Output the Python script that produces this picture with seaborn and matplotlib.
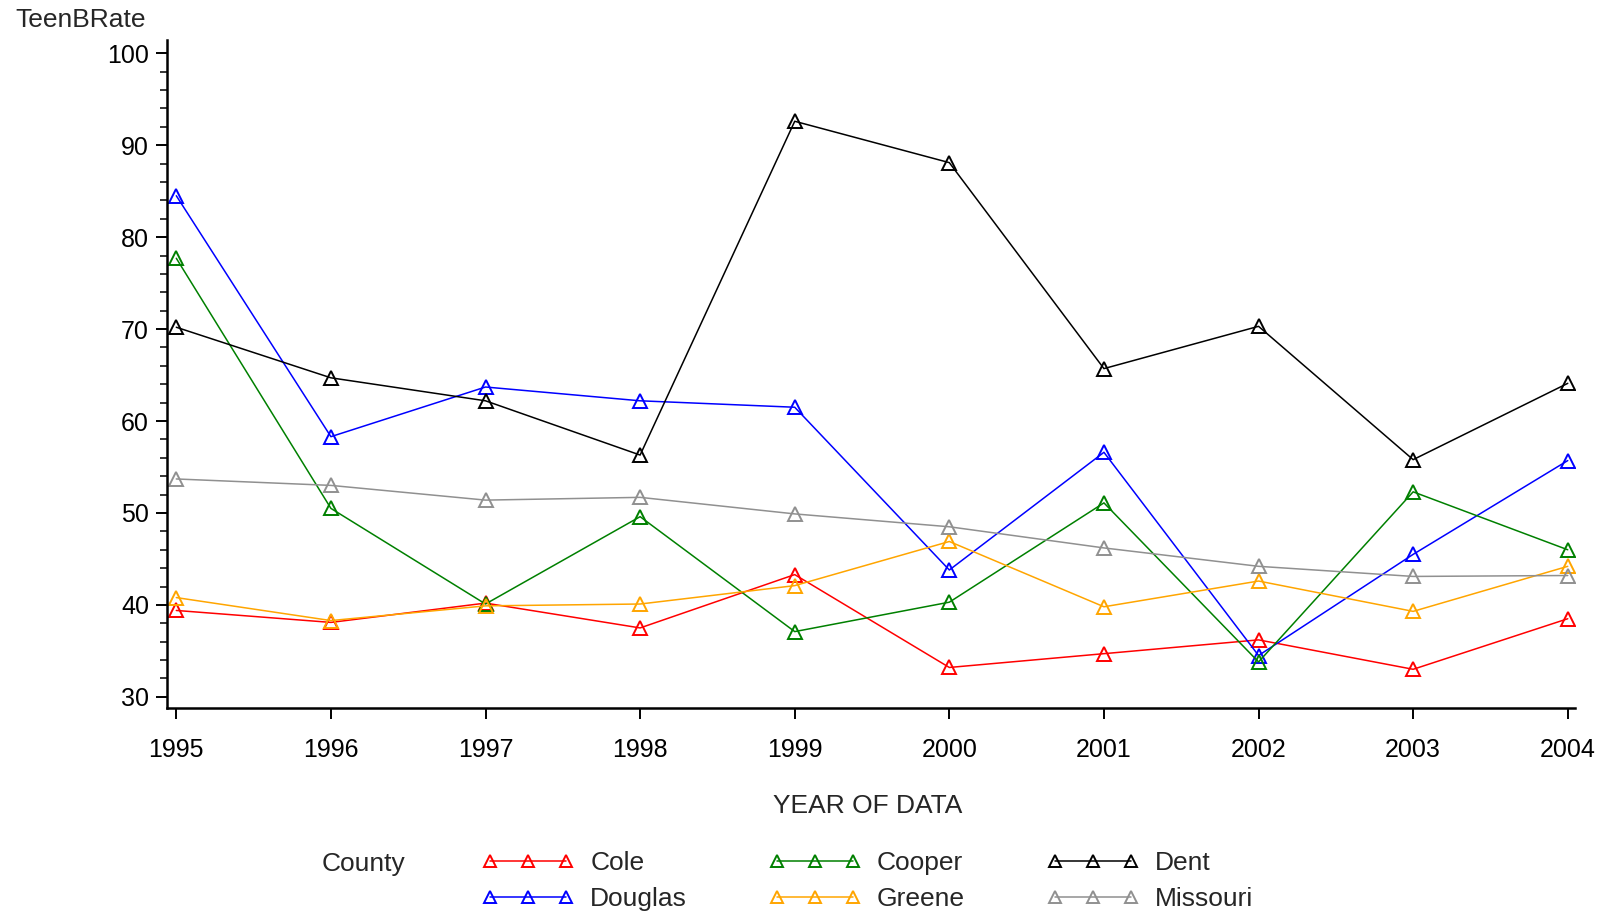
import matplotlib
matplotlib.use("Agg")
import matplotlib.pyplot as plt
import seaborn as sns
import pandas as pd
from matplotlib.ticker import MultipleLocator

years = [1995, 1996, 1997, 1998, 1999, 2000, 2001, 2002, 2003, 2004]
cole = [39.4, 38.1, 40.2, 37.5, 43.3, 33.2, 34.7, 36.2, 33.0, 38.5]
douglas = [84.5, 58.3, 63.7, 62.2, 61.5, 43.8, 56.6, 34.5, 45.5, 55.7]
cooper = [77.7, 50.5, 40.1, 49.6, 37.1, 40.3, 51.1, 33.8, 52.3, 46.0]
greene = [40.8, 38.3, 39.9, 40.1, 42.1, 46.9, 39.8, 42.6, 39.3, 44.2]
dent = [70.2, 64.7, 62.2, 56.3, 92.6, 88.1, 65.7, 70.3, 55.8, 64.1]
missouri = [53.7, 53.0, 51.4, 51.7, 49.9, 48.5, 46.2, 44.2, 43.1, 43.2]

counties = ["Cole", "Douglas", "Cooper", "Greene", "Dent", "Missouri"]
series = [cole, douglas, cooper, greene, dent, missouri]
colors = ["#ff0000", "#0000ff", "#008000", "#ffa500", "#000000", "#909090"]

rows = []
for name, vals in zip(counties, series):
    for y, v in zip(years, vals):
        rows.append({"County": name, "Year": y, "TeenBRate": v})
df = pd.DataFrame(rows)

sns.set_style("white")
plt.rcParams["font.family"] = ["Liberation Sans", "DejaVu Sans"]

fig = plt.figure(figsize=(16.06, 9.17), dpi=100)
ax = fig.add_axes([0.104, 0.228, 0.877, 0.728])

for name, col in zip(counties, colors):
    sub = df[df["County"] == name]
    sns.lineplot(data=sub, x="Year", y="TeenBRate", ax=ax, color=col,
                 marker="^", markersize=10, markerfacecolor="none",
                 markeredgecolor=col, markeredgewidth=1.4, linewidth=1.1,
                 label=name, legend=False)

ax.set_xlim(1994.94, 2004.05)
ax.set_ylim(28.8, 101.4)
ax.set_xticks(years)
ax.set_xticklabels([str(y) for y in years])
ax.yaxis.set_major_locator(MultipleLocator(10))
ax.yaxis.set_minor_locator(MultipleLocator(2))
ax.tick_params(axis="both", which="major", direction="out", length=8, width=1.4,
               labelsize=18, color="black", labelcolor="black", pad=5,
               left=True, bottom=True)
ax.tick_params(axis="x", which="major", pad=14)
ax.tick_params(axis="y", which="minor", direction="out", length=5, width=1.1,
               left=True, color="black")
for s in ["top", "right"]:
    ax.spines[s].set_visible(False)
for s in ["left", "bottom"]:
    ax.spines[s].set_color("black")
    ax.spines[s].set_linewidth(1.8)

ax.set_xlabel("")
ax.set_ylabel("")
fig.text(15 / 1606, 1 - 20 / 917, "TeenBRate", fontsize=19, ha="left", va="center")
fig.text(868 / 1606, 1 - 806 / 917, "YEAR OF DATA", fontsize=19, ha="center", va="center")
fig.text(322 / 1606, 1 - 864 / 917, "County", fontsize=19, ha="left", va="center")

handles, labels = ax.get_legend_handles_labels()
fig.legend(handles, labels, ncol=3, loc="upper left",
           bbox_to_anchor=(482 / 1606, 1 - 851 / 917), frameon=False,
           fontsize=19, numpoints=3, handlelength=3.5, handletextpad=0.6,
           columnspacing=3.1, labelspacing=0.45, borderpad=0, borderaxespad=0,
           markerscale=0.8)

fig.savefig("out.png", dpi=100, facecolor="white")
